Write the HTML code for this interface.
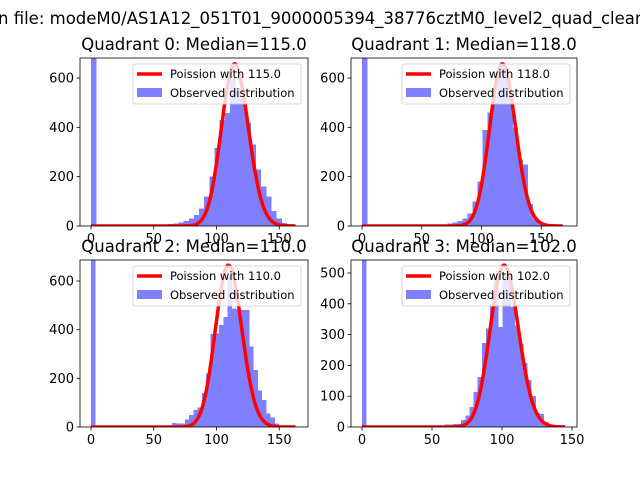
<!DOCTYPE html>
<html><head><meta charset="utf-8"><style>
body{margin:0;background:#fff}
svg{display:block;font-family:"DejaVu Sans","Liberation Sans",sans-serif}
</style></head><body>
<svg id="fig" width="640" height="480" viewBox="0 0 640 480">
<text x="-2" y="24" font-size="16.5">n file: modeM0/AS1A12_051T01_9000005394_38776cztM0_level2_quad_clean</text>
</svg>
<script>
const medians=[115,118,110,102];
const binWidths=[4.1,4.2,3.4,2.95];
const curvePeaks=[657,657,665,525];
const curveMax=[163,168,163,145];
const yTicks0=[0,200,400,600];
const yTicks3=[0,100,200,300,400,500];
const xTicks=[0,50,100,150];
const counts0=[3000,0,0,0,0,0,0,0,0,0,0,0,0,0,5,8,10,15,20,30,45,70,120,200,316,430,458,600,560,520,420,330,230,160,120,60,30,12,5,2];
const counts1=[3000,0,0,0,0,0,0,0,0,0,0,0,0,0,0,3,5,10,15,20,30,50,100,180,390,460,530,640,640,530,400,270,250,90,30,15,5,2];
const counts2=[3000,0,0,0,0,0,0,0,0,0,0,0,0,0,0,0,0,0,5,17,14,15,30,50,70,80,140,220,382,385,420,452,620,488,480,480,480,330,234,150,110,56,40,14,6];
const counts3=[3000,0,0,0,0,0,0,0,0,0,0,0,0,0,0,0,5,0,0,5,8,8,10,10,22,38,65,113,163,272,320,400,490,325,500,490,390,330,270,208,152,100,45,43,16];
const allCounts=[counts0,counts1,counts2,counts3];
const layouts=[
 {x0:80,x1:308,y0:58,y1:226,px0:91,pxPer:1.255,yPer:148/600,yt:yTicks0},
 {x0:351,x1:577,y0:58,y1:226,px0:362,pxPer:1.195,yPer:148/600,yt:yTicks0},
 {x0:80,x1:308,y0:260,y1:427,px0:91,pxPer:1.255,yPer:146/600,yt:yTicks0},
 {x0:351,x1:577,y0:260,y1:427,px0:362,pxPer:1.4,yPer:0.308,yt:yTicks3}
];
const NS="http://www.w3.org/2000/svg";
const svg=document.getElementById('fig');
function mk(t,a,p){const e=document.createElementNS(NS,t);for(const k in a)e.setAttribute(k,a[k]);(p||svg).appendChild(e);return e;}
function lgam(n){let s=0;for(let i=2;i<=n;i++)s+=Math.log(i);return s;}
function pmf(k,l){return Math.exp(k*Math.log(l)-l-lgam(k));}
layouts.forEach((L,q)=>{
 const g=mk('g',{});
 
 
 const X=v=>L.px0+v*L.pxPer, Y=v=>L.y1-v*L.yPer;
 const cp=mk('clipPath',{id:'c'+q},g);mk('rect',{x:L.x0,y:L.y0,width:L.x1-L.x0,height:L.y1-L.y0},cp);
 const plot=mk('g',{'clip-path':'url(#c'+q+')'},g);
 const bw=binWidths[q];
 allCounts[q].forEach((c,i)=>{
  if(!c)return;
  const r=mk('rect',{x:X(i*bw),y:Y(c),width:X((i+1)*bw)-X(i*bw)+0.4,height:Y(0)-Y(c),fill:'#8080ff','shape-rendering':'crispEdges'},plot);
  
  
 });
 const lam=medians[q],pk=pmf(Math.floor(lam),lam);let d='';
 for(let k=0;k<=curveMax[q];k++){const v=pmf(k,lam)/pk*curvePeaks[q];d+=(k?'L':'M')+X(k).toFixed(1)+','+Y(v).toFixed(1);}
 const ln=mk('path',{d:d,fill:'none',stroke:'#ff0000','stroke-width':3.5,'stroke-linejoin':'round'},plot);
 
 
 mk('rect',{x:L.x0,y:L.y0,width:L.x1-L.x0,height:L.y1-L.y0,fill:'none',stroke:'#000','stroke-width':0.8},g);
 xTicks.forEach(t=>{const x=X(t);if(x>L.x1)return;mk('line',{x1:x,x2:x,y1:L.y1,y2:L.y1+3.5,stroke:'#000','stroke-width':0.8},g);
  const tx=mk('text',{x:x,y:L.y1+17,'font-size':13,'text-anchor':'middle'},g);tx.textContent=t;
  
  });
 L.yt.forEach(t=>{const y=Y(t);mk('line',{x1:L.x0-3.5,x2:L.x0,y1:y,y2:y,stroke:'#000','stroke-width':0.8},g);
  const tx=mk('text',{x:L.x0-6,y:y+4.5,'font-size':13,'text-anchor':'end'},g);tx.textContent=t;
  
  });
 const ti=mk('text',{x:(L.x0+L.x1)/2,y:L.y0-8,'font-size':16.5,'text-anchor':'middle'},g);
 ti.textContent='Quadrant '+q+': Median='+medians[q].toFixed(1);
 
 
 const lg=mk('g',{},g);
 
 
 const lx=L.x1-175,ly=L.y0+6;
 mk('rect',{x:lx,y:ly,width:168,height:40,rx:2,fill:'#fff','fill-opacity':0.8,stroke:'#ccc','stroke-width':0.8},lg);
 mk('line',{x1:lx+4,x2:lx+29,y1:ly+10,y2:ly+10,stroke:'#ff0000','stroke-width':3.5},lg);
 const t1=mk('text',{x:lx+37,y:ly+14,'font-size':11.5},lg);t1.textContent='Poission with '+medians[q].toFixed(1);
 mk('rect',{x:lx+4,y:ly+24,width:25,height:9,fill:'#8080ff'},lg);
 const t2=mk('text',{x:lx+37,y:ly+33,'font-size':11.5},lg);t2.textContent='Observed distribution';
});
</script>
</body></html>
